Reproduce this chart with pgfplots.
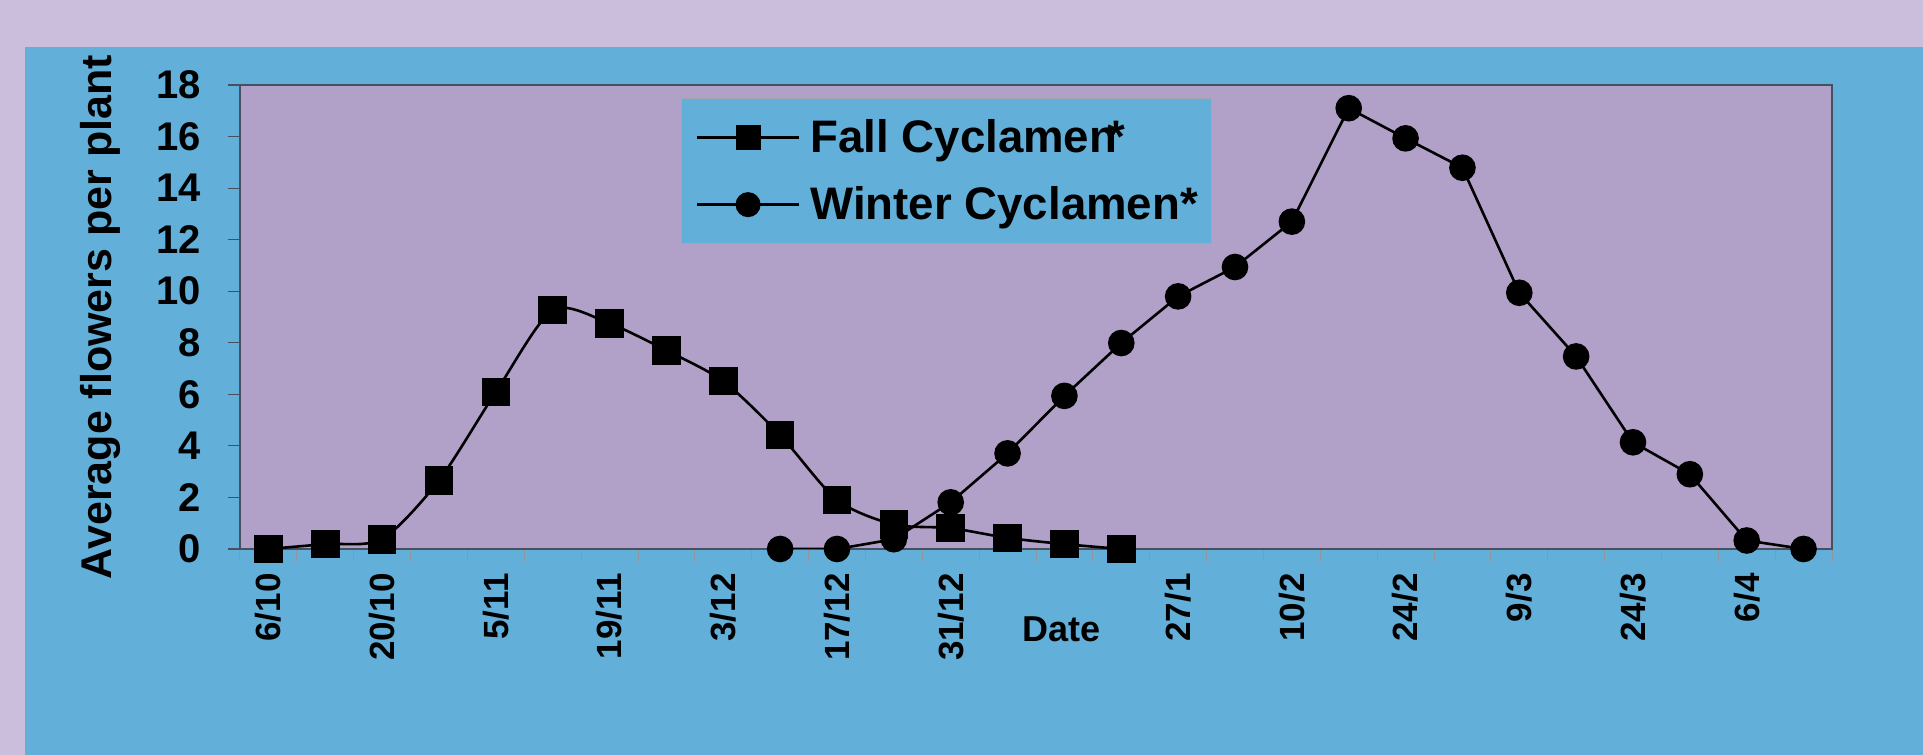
\documentclass[border=0pt]{standalone}
\usepackage{fontspec}
\setmainfont{Liberation Sans}
\usepackage{pgfplots}
\pgfplotsset{compat=1.18}
\definecolor{lav}{RGB}{203,190,220}
\definecolor{panel}{RGB}{98,176,218}
\definecolor{plotbg}{RGB}{177,160,200}
\definecolor{axgray}{RGB}{70,80,95}
\begin{document}
\begin{tikzpicture}
\fill[lav] (-120pt,-103pt) rectangle (841.5pt,274.5pt);
\fill[panel] (-107.5pt,-103pt) rectangle (841.5pt,251pt);
\begin{axis}[
  scale only axis,
  width=796pt, height=232pt,
  at={(0pt,0pt)}, anchor=south west,
  xmin=-0.5, xmax=27.5, ymin=0, ymax=18,
  axis background/.style={fill=plotbg},
  axis line style={draw=axgray, line width=0.8pt},
  tick align=outside,
  tick pos=left,
  ytick={0,2,...,18},
  y tick style={draw=axgray, line width=0.6pt},
  major tick length=6pt,
  xtick={-0.5,0.5,...,27.5},
  xticklabels={},
  x tick style={draw=axgray!60, line width=0.5pt},
  extra x ticks={0,2,4,6,8,10,12,16,18,20,22,24,26},
  extra x tick labels={6/10,20/10,5/11,19/11,3/12,17/12,31/12,27/1,10/2,24/2,9/3,24/3,6/4},
  extra x tick style={major tick length=0pt},
  xticklabel style={rotate=90, anchor=east, inner sep=0pt, font=\fontsize{17.5}{20}\selectfont\bfseries, xshift=-12pt},
  yticklabel style={inner sep=0pt, font=\fontsize{20}{24}\selectfont\bfseries, xshift=-13.5pt},
  /pgf/number format/assume math mode=true,
  ylabel={Average flowers per plant},
  ylabel style={at={(axis description cs:-0.0879,0.5)}, anchor=center, font=\fontsize{21.5}{26}\selectfont\bfseries},
  xlabel={Date},
  xlabel style={at={(axis description cs:0.5163,-0.1724)}, anchor=center, font=\fontsize{18}{22}\selectfont\bfseries},
  legend style={at={(axis description cs:0.277,0.972)}, anchor=north west,
    fill=panel, draw=axgray!50, line width=0.6pt,
    font=\fontsize{22.8}{27}\selectfont\bfseries,
    inner xsep=7pt, inner ysep=10.5pt, row sep=15.5pt,
    nodes={inner sep=0pt}, column sep=5pt},
  legend cell align=left,
  legend image code/.code={\draw[#1,line width=1.5pt,mark size=5.5pt,mark repeat=2,mark phase=2] plot coordinates {(0pt,0pt) (25.5pt,0pt) (51pt,0pt)};},
]
\addplot[black, line width=1.3pt, smooth, tension=0.45, mark=square*, mark size=6.5pt, mark options={solid}] coordinates {
(0,0) (1,0.19) (2,0.38) (3,2.66) (4,6.09) (5,9.27) (6,8.75) (7,7.70) (8,6.51) (9,4.42) (10,1.90) (11,0.95) (12,0.81) (13,0.43) (14,0.19) (15,0)
};
\addlegendentry{Fall Cyclamen\kern-0.22em*}
\addplot[black, line width=1.3pt, mark=*, mark size=6pt] coordinates {
(9,0) (10,0) (11,0.38) (12,1.81) (13,3.71) (14,5.94) (15,7.99) (16,9.80) (17,10.94) (18,12.7) (19,17.1) (20,15.93) (21,14.79) (22,9.94) (23,7.47) (24,4.14) (25,2.90) (26,0.33) (27,0)
};
\addlegendentry{Winter Cyclamen*}
\end{axis}
\end{tikzpicture}
\end{document}
